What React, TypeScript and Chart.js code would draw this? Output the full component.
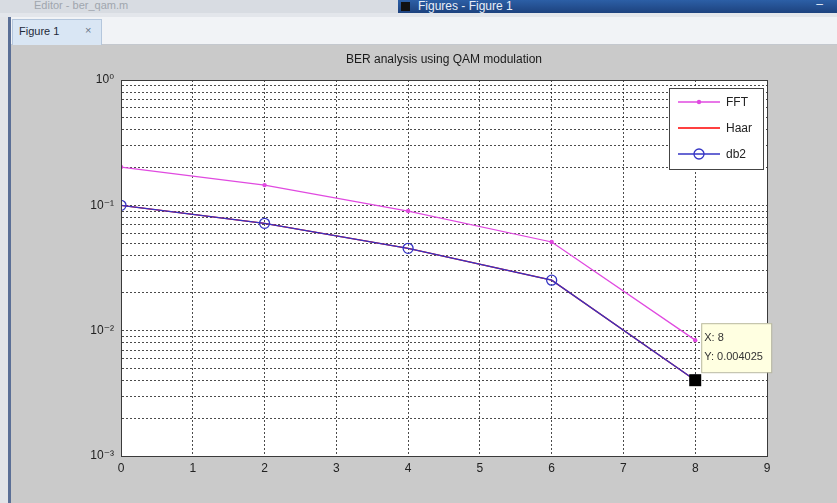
import React, { useEffect, useRef } from 'react';
import { Chart, registerables } from 'chart.js';

Chart.register(...registerables);

// ---------- data ----------
const chartTitle = 'BER analysis using QAM modulation';
const seriesNames = ['FFT', 'Haar', 'db2'];
const snrValues = [0, 2, 4, 6, 8];
const berFFT = [0.202, 0.145, 0.09, 0.051, 0.0084];
const berHaar = [0.1, 0.0718, 0.0454, 0.0253, 0.004025];
const berDb2 = [0.1, 0.0718, 0.0454, 0.0253, 0.004025];
const xTickValues = [0, 1, 2, 3, 4, 5, 6, 7, 8, 9];
const yDecades = [0.001, 0.01, 0.1, 1];
const yDecadeLabels = ['10\u207B\u00B3', '10\u207B\u00B2', '10\u207B\u00B9', '10\u2070'];
const dataTipIndex = 4;

const FONT = '"Liberation Sans", Arial, "DejaVu Sans", sans-serif';
const colFFT = '#e04ae0';
const colHaar = '#ff0000';
const colDb2 = '#3434c4';

function buildLogTicks() {
  const out: { value: number; major: boolean }[] = [];
  for (let d = 0; d < yDecades.length - 1; d++) {
    for (let s = 1; s <= 9; s++) out.push({ value: s * yDecades[d], major: s === 1 });
  }
  out.push({ value: yDecades[yDecades.length - 1], major: true });
  return out;
}

function decadeLabel(v: number) {
  for (let i = 0; i < yDecades.length; i++) {
    if (Math.abs(Math.log10(v) - Math.log10(yDecades[i])) < 1e-6) return yDecadeLabels[i];
  }
  return '';
}

const decorPlugin = {
  id: 'matlabDecor',
  beforeDraw(chart: any) {
    const { ctx, chartArea: a } = chart;
    ctx.save();
    ctx.fillStyle = '#ffffff';
    ctx.fillRect(a.left, a.top, a.right - a.left, a.bottom - a.top);
    ctx.restore();
  },
  afterDraw(chart: any) {
    const { ctx, chartArea: a, scales } = chart;
    ctx.save();
    // axes box
    ctx.strokeStyle = '#3a3a3a';
    ctx.lineWidth = 1;
    ctx.setLineDash([]);
    ctx.strokeRect(a.left + 0.5, a.top + 0.5, a.right - a.left, a.bottom - a.top);

    // title
    ctx.fillStyle = '#1a1a1a';
    ctx.font = `12px ${FONT}`;
    ctx.textAlign = 'center';
    ctx.textBaseline = 'middle';
    ctx.fillText(chartTitle, (a.left + a.right) / 2, a.top - 20);

    // legend
    const bw = 94, bh = 81;
    const bx = a.right - 98, by = a.top + 8;
    ctx.fillStyle = '#ffffff';
    ctx.fillRect(bx, by, bw, bh);
    ctx.strokeStyle = '#444';
    ctx.strokeRect(bx + 0.5, by + 0.5, bw, bh);
    const rows = [
      { name: seriesNames[0], color: colFFT, marker: 'dot' },
      { name: seriesNames[1], color: colHaar, marker: 'none' },
      { name: seriesNames[2], color: colDb2, marker: 'circle' },
    ];
    rows.forEach((r, i) => {
      const ry = by + 14 + i * 26;
      ctx.strokeStyle = r.color;
      ctx.lineWidth = 1.3;
      ctx.beginPath();
      ctx.moveTo(bx + 9, ry);
      ctx.lineTo(bx + 51, ry);
      ctx.stroke();
      if (r.marker === 'dot') {
        ctx.fillStyle = r.color;
        ctx.beginPath();
        ctx.arc(bx + 30, ry, 2.2, 0, Math.PI * 2);
        ctx.fill();
      } else if (r.marker === 'circle') {
        ctx.beginPath();
        ctx.arc(bx + 30, ry, 5, 0, Math.PI * 2);
        ctx.stroke();
      }
      ctx.fillStyle = '#222';
      ctx.font = `12px ${FONT}`;
      ctx.textAlign = 'left';
      ctx.textBaseline = 'middle';
      ctx.fillText(r.name, bx + 57, ry + 1);
    });

    // data tip
    const px = scales.x.getPixelForValue(snrValues[dataTipIndex]);
    const py = scales.y.getPixelForValue(berDb2[dataTipIndex]);
    ctx.fillStyle = '#000';
    ctx.fillRect(px - 6, py - 6, 12, 12);
    const tx = px + 6, ty = py - 57;
    ctx.fillStyle = '#ffffe1';
    ctx.fillRect(tx, ty, 70, 49);
    ctx.strokeStyle = '#b8b8a0';
    ctx.lineWidth = 1;
    ctx.strokeRect(tx + 0.5, ty + 0.5, 70, 49);
    ctx.fillStyle = '#333';
    ctx.font = `11px ${FONT}`;
    ctx.textAlign = 'left';
    ctx.textBaseline = 'middle';
    ctx.fillText(`X: ${snrValues[dataTipIndex]}`, tx + 3, ty + 15);
    ctx.fillText(`Y: ${berDb2[dataTipIndex]}`, tx + 3, ty + 34);
    ctx.restore();
  },
};

export default function App() {
  const canvasRef = useRef<HTMLCanvasElement | null>(null);

  useEffect(() => {
    document.body.style.margin = '0';
    const canvas = canvasRef.current;
    if (!canvas) return;
    const toPts = (ys: number[]) => snrValues.map((x, i) => ({ x, y: ys[i] }));
    const gridStyle = {
      color: 'rgba(30,30,30,0.8)',
      lineWidth: 1,
      drawTicks: false,
      tickLength: 0,
    };
    const chart = new Chart(canvas, {
      type: 'line',
      data: {
        datasets: [
          {
            label: seriesNames[0],
            data: toPts(berFFT),
            borderColor: colFFT,
            backgroundColor: colFFT,
            borderWidth: 1.3,
            pointRadius: 2.2,
            pointStyle: 'circle',
            pointBorderWidth: 0,
            order: 3,
          },
          {
            label: seriesNames[1],
            data: toPts(berHaar),
            borderColor: colHaar,
            backgroundColor: colHaar,
            borderWidth: 1.3,
            pointRadius: 0,
            order: 2,
          },
          {
            label: seriesNames[2],
            data: toPts(berDb2),
            borderColor: colDb2,
            backgroundColor: 'rgba(0,0,0,0)',
            borderWidth: 1.3,
            pointRadius: 5,
            pointBorderWidth: 1.3,
            pointBorderColor: colDb2,
            pointStyle: 'circle',
            order: 1,
          },
        ],
      },
      options: {
        animation: false,
        responsive: false,
        maintainAspectRatio: false,
        layout: { padding: { left: 0, right: 70, top: 35, bottom: 0 } },
        plugins: {
          legend: { display: false },
          title: { display: false },
          tooltip: { enabled: false },
        },
        scales: {
          x: {
            type: 'linear',
            min: 0,
            max: 9,
            afterBuildTicks: (s: any) => {
              s.ticks = xTickValues.map((v) => ({ value: v }));
            },
            afterFit: (s: any) => {
              s.height = 47;
            },
            ticks: {
              autoSkip: false,
              maxRotation: 0,
              padding: 5,
              color: '#222',
              font: { family: FONT, size: 12 },
              callback: (v: any) => String(v),
            },
            grid: gridStyle,
            border: { display: true, color: '#3a3a3a', width: 1, dash: [2, 2] },
          },
          y: {
            type: 'logarithmic',
            min: yDecades[0],
            max: yDecades[yDecades.length - 1],
            afterBuildTicks: (s: any) => {
              s.ticks = buildLogTicks();
            },
            afterFit: (s: any) => {
              s.width = 121;
            },
            ticks: {
              autoSkip: false,
              padding: 7,
              color: '#222',
              font: { family: FONT, size: 12 },
              callback: (v: any) => decadeLabel(Number(v)),
            },
            grid: gridStyle,
            border: { display: true, color: '#3a3a3a', width: 1, dash: [2, 2] },
          },
        },
      } as any,
      plugins: [decorPlugin],
    });
    return () => chart.destroy();
  }, []);

  return (
    <div
      style={{
        position: 'fixed',
        left: 0,
        top: 0,
        width: 837,
        height: 503,
        background: '#cacaca',
        overflow: 'hidden',
        fontFamily: FONT,
      }}
    >
      <div style={{ position: 'absolute', left: 0, top: 0, width: 398, height: 13, background: '#d8dce2' }}>
        <span style={{ position: 'absolute', left: 34, top: -1, fontSize: 11, color: '#a0a6ae', whiteSpace: 'nowrap' }}>
          Editor - ber_qam.m
        </span>
      </div>
      <div
        style={{
          position: 'absolute',
          left: 398,
          top: 0,
          width: 439,
          height: 13,
          background: 'linear-gradient(#2c5fa6, #1d427e)',
        }}
      >
        <div style={{ position: 'absolute', left: 3, top: 2, width: 9, height: 9, background: '#111' }} />
        <span style={{ position: 'absolute', left: 20, top: -1, fontSize: 12, color: '#e8eef8', whiteSpace: 'nowrap' }}>
          Figures - Figure 1
        </span>
        <span style={{ position: 'absolute', right: 14, top: -3, fontSize: 12, color: '#e8eef8' }}>–</span>
      </div>
      <div style={{ position: 'absolute', left: 0, top: 13, width: 837, height: 4, background: '#e3e6eb' }} />
      <div
        style={{
          position: 'absolute',
          left: 0,
          top: 17,
          width: 837,
          height: 28,
          background: '#f1f3f6',
          borderBottom: '1px solid #c4c8ce',
          boxSizing: 'border-box',
        }}
      />
      <div
        style={{
          position: 'absolute',
          left: 12,
          top: 19,
          width: 90,
          height: 26,
          background: '#d9e6f4',
          border: '1px solid #b4c6dc',
          borderBottom: 'none',
          boxSizing: 'border-box',
        }}
      >
        <span style={{ position: 'absolute', left: 6, top: 5, fontSize: 11, color: '#1e2a3a', whiteSpace: 'nowrap' }}>
          Figure 1
        </span>
        <span style={{ position: 'absolute', left: 72, top: 4, fontSize: 11, color: '#6a7888' }}>×</span>
      </div>
      <canvas
        ref={canvasRef}
        width={837}
        height={458}
        style={{ position: 'absolute', left: 0, top: 45, width: 837, height: 458 }}
      />
      <div style={{ position: 'absolute', left: 0, top: 17, width: 8, height: 486, background: '#e2e4e8' }} />
      <div style={{ position: 'absolute', left: 8, top: 17, width: 3, height: 486, background: '#5b6f96' }} />
    </div>
  );
}
